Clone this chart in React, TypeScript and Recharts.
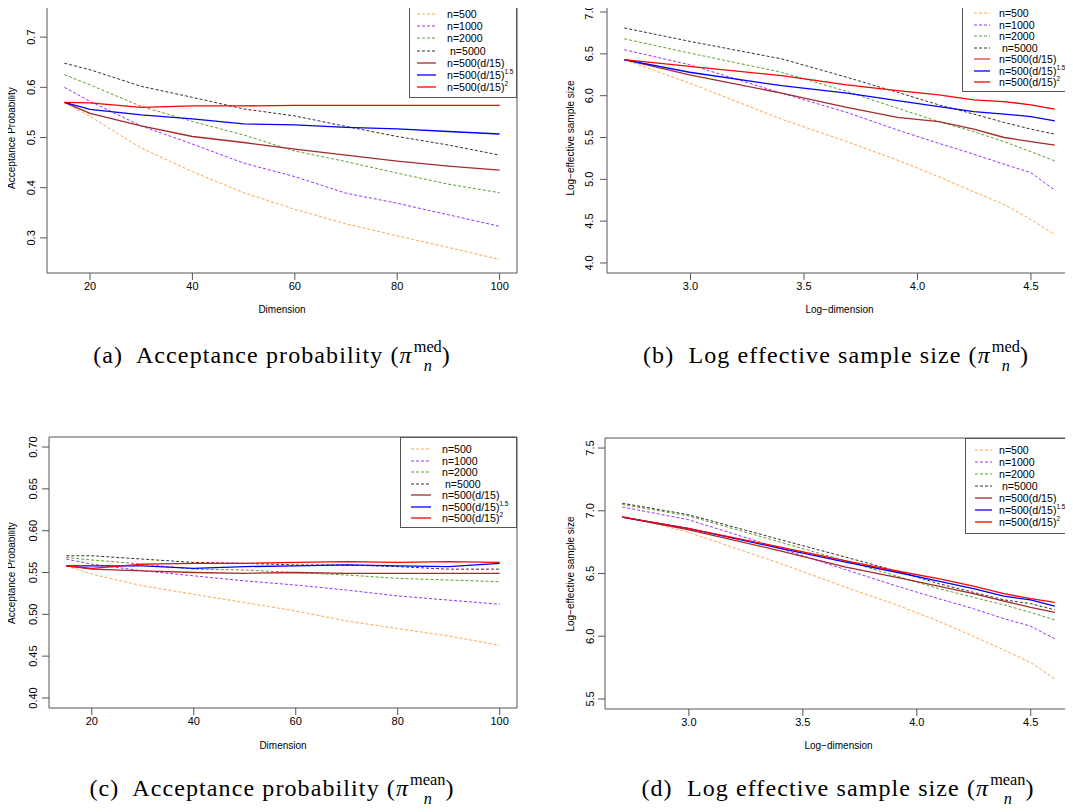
import { LineChart, Line, XAxis, YAxis, ReferenceArea, Legend } from 'recharts';

const SANS = '"Liberation Sans", Arial, sans-serif';
const SERIF = '"Liberation Serif", "DejaVu Serif", serif';

const DIMS = [15, 20, 30, 40, 50, 60, 70, 80, 90, 100];
const LOG_DIMS = DIMS.map((d) => Math.log(d));

// (a) acceptance probability, median target
const medAcc500 = [0.570, 0.542, 0.479, 0.432, 0.390, 0.357, 0.328, 0.304, 0.281, 0.257];
const medAcc1000 = [0.600, 0.572, 0.523, 0.487, 0.449, 0.422, 0.389, 0.369, 0.346, 0.323];
const medAcc2000 = [0.625, 0.605, 0.562, 0.532, 0.505, 0.473, 0.452, 0.429, 0.407, 0.390];
const medAcc5000 = [0.648, 0.635, 0.602, 0.580, 0.557, 0.543, 0.522, 0.502, 0.485, 0.465];
const medAccLin = [0.570, 0.548, 0.523, 0.502, 0.490, 0.477, 0.465, 0.453, 0.443, 0.435];
const medAccPow15 = [0.570, 0.556, 0.545, 0.537, 0.527, 0.525, 0.520, 0.517, 0.512, 0.507];
const medAccSq = [0.570, 0.569, 0.560, 0.563, 0.563, 0.564, 0.564, 0.564, 0.564, 0.564];

// (b) log effective sample size, median target
const medEss500 = [6.43, 6.15, 5.72, 5.45, 5.23, 5.03, 4.85, 4.70, 4.52, 4.34];
const medEss1000 = [6.55, 6.37, 6.03, 5.80, 5.59, 5.43, 5.30, 5.18, 5.08, 4.87];
const medEss2000 = [6.68, 6.51, 6.28, 6.05, 5.85, 5.69, 5.57, 5.45, 5.33, 5.22];
const medEss5000 = [6.81, 6.65, 6.44, 6.22, 6.04, 5.89, 5.78, 5.68, 5.60, 5.54];
const medEssLin = [6.43, 6.25, 6.03, 5.86, 5.74, 5.69, 5.60, 5.50, 5.45, 5.41];
const medEssPow15 = [6.43, 6.28, 6.12, 6.03, 5.94, 5.87, 5.81, 5.78, 5.75, 5.70];
const medEssSq = [6.43, 6.35, 6.24, 6.13, 6.06, 6.01, 5.95, 5.93, 5.89, 5.84];

// (c) acceptance probability, mean target
const meanAcc500 = [0.558, 0.548, 0.534, 0.524, 0.514, 0.504, 0.492, 0.483, 0.474, 0.463];
const meanAcc1000 = [0.566, 0.560, 0.552, 0.546, 0.540, 0.535, 0.529, 0.522, 0.517, 0.512];
const meanAcc2000 = [0.568, 0.565, 0.560, 0.554, 0.553, 0.550, 0.547, 0.543, 0.541, 0.539];
const meanAcc5000 = [0.570, 0.570, 0.566, 0.562, 0.561, 0.559, 0.559, 0.557, 0.554, 0.554];
const meanAccLin = [0.558, 0.554, 0.552, 0.550, 0.549, 0.550, 0.549, 0.549, 0.549, 0.549];
const meanAccPow15 = [0.558, 0.558, 0.558, 0.555, 0.557, 0.558, 0.559, 0.558, 0.557, 0.561];
const meanAccSq = [0.558, 0.555, 0.560, 0.561, 0.561, 0.562, 0.563, 0.562, 0.563, 0.562];

// (d) log effective sample size, mean target
const meanEss500 = [6.96, 6.83, 6.58, 6.39, 6.25, 6.12, 6.00, 5.89, 5.79, 5.66];
const meanEss1000 = [7.03, 6.93, 6.70, 6.53, 6.40, 6.30, 6.22, 6.14, 6.08, 5.98];
const meanEss2000 = [7.05, 6.96, 6.75, 6.60, 6.48, 6.38, 6.31, 6.25, 6.19, 6.13];
const meanEss5000 = [7.06, 6.97, 6.77, 6.63, 6.52, 6.42, 6.35, 6.29, 6.26, 6.21];
const meanEssLin = [6.95, 6.85, 6.68, 6.55, 6.47, 6.40, 6.34, 6.28, 6.23, 6.19];
const meanEssPow15 = [6.95, 6.86, 6.70, 6.59, 6.51, 6.44, 6.38, 6.32, 6.29, 6.24];
const meanEssSq = [6.95, 6.86, 6.71, 6.60, 6.52, 6.46, 6.40, 6.34, 6.30, 6.27];

const DIM_TICKS = [20, 40, 60, 80, 100];
const LOG_DIM_TICKS = [3.0, 3.5, 4.0, 4.5];
const MED_ACC_TICKS = [0.3, 0.4, 0.5, 0.6, 0.7];
const MED_ESS_TICKS = [4.0, 4.5, 5.0, 5.5, 6.0, 6.5, 7.0];
const MEAN_ACC_TICKS = [0.40, 0.45, 0.50, 0.55, 0.60, 0.65, 0.70];
const MEAN_ESS_TICKS = [5.5, 6.0, 6.5, 7.0, 7.5];

const KEYS = ['n500', 'n1000', 'n2000', 'n5000', 'lin', 'pow15', 'sq'];
const COLORS = ['#FFA54F', '#9B30FF', '#5E9E2E', '#333333', '#A52A2A', '#0000FF', '#FF0000'];
const DASHED = [true, true, true, true, false, false, false];
const LEGEND_TEXT = ['n=500', 'n=1000', 'n=2000', ' n=5000', 'n=500(d/15)', 'n=500(d/15)', 'n=500(d/15)'];
const LEGEND_SUP = ['', '', '', '', '', '1.5', '2'];

function buildRows(xs: number[], cols: number[][]) {
  return xs.map((x, i) => {
    const row: Record<string, number> = { x };
    KEYS.forEach((k, j) => { row[k] = cols[j][i]; });
    return row;
  });
}

interface LegendCfg {
  left: number; top: number; width: number; height: number;
  first: number; step: number; lineX: number; lineW: number; textX: number;
  firstSolid?: string;
}

function LegendBox({ cfg }: { cfg: LegendCfg }) {
  return (
    <div style={{
      width: '100%', height: '100%', boxSizing: 'border-box', border: '1px solid #555',
      background: '#fff', position: 'relative', fontFamily: SANS, fontSize: 10.6, color: '#000',
    }}>
      {LEGEND_TEXT.map((t, i) => {
        const color = i === 4 && cfg.firstSolid ? cfg.firstSolid : COLORS[i];
        return (
          <div key={i} style={{ position: 'absolute', left: 0, top: cfg.first + i * cfg.step - 8, height: 14, width: '100%' }}>
            <svg style={{ position: 'absolute', left: cfg.lineX, top: 0 }} width={cfg.lineW} height={14}>
              <line x1={0} y1={7} x2={cfg.lineW} y2={7} stroke={color}
                strokeWidth={DASHED[i] ? 1 : 1.3} strokeDasharray={DASHED[i] ? '3 2' : undefined} />
            </svg>
            <span style={{ position: 'absolute', left: cfg.textX, top: 0, lineHeight: '14px', whiteSpace: 'pre' }}>
              {t}
              {LEGEND_SUP[i] && (
                <span style={{ fontSize: 6.5, position: 'relative', top: -5 }}>{LEGEND_SUP[i]}</span>
              )}
            </span>
          </div>
        );
      })}
    </div>
  );
}

interface PanelProps {
  rows: Record<string, number>[];
  left: number; top: number; width: number; height: number;
  plot: { left: number; top: number; right: number; bottom: number };
  xDomain: [number, number]; xTicks: number[];
  yDomain: [number, number]; yTicks: number[]; yDigits: number; yTickOff: number;
  xTitle: string; yTitle: string; yTitleX: number; xTitleY: number;
  legend: LegendCfg;
}

function Panel(p: PanelProps) {
  const yAxisW = p.plot.left;
  const xAxisH = p.height - p.plot.bottom;
  const plotW = p.plot.right - p.plot.left;
  const plotH = p.plot.bottom - p.plot.top;
  const renderYTick = (props: any) => {
    const { x, y, payload } = props;
    const px = x + 9 - p.yTickOff;
    return (
      <text x={px} y={y} transform={`rotate(-90 ${px} ${y})`} textAnchor="middle"
        dominantBaseline="central" fontSize={11} fill="#000" fontFamily={SANS}>
        {Number(payload.value).toFixed(p.yDigits)}
      </text>
    );
  };
  return (
    <div style={{ position: 'absolute', left: p.left, top: p.top, width: p.width, height: p.height }}>
      <LineChart width={p.width} height={p.height} data={p.rows}
        margin={{ top: p.plot.top, right: p.width - p.plot.right, left: 0, bottom: 0 }}
        style={{ fontFamily: SANS }}>
        <XAxis dataKey="x" type="number" domain={p.xDomain} ticks={p.xTicks} allowDataOverflow
          height={xAxisH} axisLine={false} tickSize={7} tickLine={{ stroke: '#555' }}
          tick={{ fontSize: 11, fill: '#000' }} interval={0}
          tickFormatter={(v: number) => (p.xTicks[0] < 10 ? v.toFixed(1) : String(v))} />
        <YAxis type="number" domain={p.yDomain} ticks={p.yTicks} allowDataOverflow
          width={yAxisW} axisLine={false} tickSize={7} tickLine={{ stroke: '#555' }}
          tick={renderYTick} interval={0} />
        <ReferenceArea x1={p.xDomain[0]} x2={p.xDomain[1]} y1={p.yDomain[0]} y2={p.yDomain[1]}
          fill="none" fillOpacity={0} stroke="#555" strokeWidth={1} ifOverflow="visible" />
        {KEYS.map((k, i) => (
          <Line key={k} dataKey={k} type="linear" stroke={COLORS[i]} dot={false}
            strokeWidth={DASHED[i] ? 1 : 1.3} strokeDasharray={DASHED[i] ? '3 2' : undefined}
            isAnimationActive={false} />
        ))}
        <Legend layout="vertical" align="center" verticalAlign="middle"
          wrapperStyle={{ left: p.legend.left, top: p.legend.top, width: p.legend.width, height: p.legend.height }}
          content={() => <LegendBox cfg={p.legend} />} />
      </LineChart>
      <div style={{
        position: 'absolute', left: p.yTitleX - 150, top: p.plot.top + plotH / 2 - 7, width: 300, height: 14,
        lineHeight: '14px', textAlign: 'center', transform: 'rotate(-90deg)', fontFamily: SANS, fontSize: 10,
      }}>{p.yTitle}</div>
      <div style={{
        position: 'absolute', left: p.plot.left + plotW / 2 - 150, top: p.xTitleY - 7, width: 300, height: 14,
        lineHeight: '14px', textAlign: 'center', fontFamily: SANS, fontSize: 10,
      }}>{p.xTitle}</div>
    </div>
  );
}

function Pi({ sup }: { sup: string }) {
  return (
    <>
      <span style={{ fontStyle: 'italic' }}>π</span>
      <span style={{
        display: 'inline-flex', flexDirection: 'column', fontSize: '0.68em', lineHeight: 1.15,
        verticalAlign: '0.7em', letterSpacing: 0, marginLeft: 1,
      }}>
        <span>{sup}</span>
        <span style={{ fontStyle: 'italic' }}>n</span>
      </span>
    </>
  );
}

function Caption({ cx, cy, tag, text, sup }: { cx: number; cy: number; tag: string; text: string; sup: string }) {
  return (
    <div style={{
      position: 'absolute', left: cx - 300, top: cy - 16, width: 600, textAlign: 'center',
      fontFamily: SERIF, fontSize: 24, lineHeight: '32px', whiteSpace: 'pre', color: '#000', letterSpacing: 1.1,
    }}>
      {`(${tag})  ${text} (`}<Pi sup={sup} />{')'}
    </div>
  );
}

const rowsA = buildRows(DIMS, [medAcc500, medAcc1000, medAcc2000, medAcc5000, medAccLin, medAccPow15, medAccSq]);
const rowsB = buildRows(LOG_DIMS, [medEss500, medEss1000, medEss2000, medEss5000, medEssLin, medEssPow15, medEssSq]);
const rowsC = buildRows(DIMS, [meanAcc500, meanAcc1000, meanAcc2000, meanAcc5000, meanAccLin, meanAccPow15, meanAccSq]);
const rowsD = buildRows(LOG_DIMS, [meanEss500, meanEss1000, meanEss2000, meanEss5000, meanEssLin, meanEssPow15, meanEssSq]);

export default function App() {
  return (
    <div style={{ position: 'relative', width: 1073, height: 812, margin: -8, background: '#fff', overflow: 'hidden' }}>
      <Panel rows={rowsA} left={0} top={0} width={540} height={330}
        plot={{ left: 47, top: 2, right: 517, bottom: 273 }}
        xDomain={[11.6, 103.4]} xTicks={DIM_TICKS} yDomain={[0.23, 0.77]} yTicks={MED_ACC_TICKS}
        yDigits={1} yTickOff={16} xTitle="Dimension" yTitle="Acceptance Probability" yTitleX={12} xTitleY={310}
        legend={{ left: 409, top: 2, width: 108, height: 96, first: 12, step: 12.2, lineX: 7, lineW: 19, textX: 37 }} />
      <Panel rows={rowsB} left={540} top={0} width={533} height={330}
        plot={{ left: 67, top: 2, right: 532, bottom: 273 }}
        xDomain={[2.632, 4.681]} xTicks={LOG_DIM_TICKS} yDomain={[3.88, 7.12]} yTicks={MED_ESS_TICKS}
        yDigits={1} yTickOff={18} xTitle="Log−dimension" yTitle="Log−effective sample size" yTitleX={31} xTitleY={310}
        legend={{ left: 422, top: 2, width: 110, height: 90, first: 11, step: 11.5, lineX: 11, lineW: 16, textX: 36, firstSolid: '#D9403A' }} />
      <Panel rows={rowsC} left={0} top={430} width={540} height={330}
        plot={{ left: 49, top: 7, right: 517, bottom: 278 }}
        xDomain={[11.6, 103.4]} xTicks={DIM_TICKS} yDomain={[0.388, 0.712]} yTicks={MEAN_ACC_TICKS}
        yDigits={2} yTickOff={16} xTitle="Dimension" yTitle="Acceptance Probability" yTitleX={12} xTitleY={316}
        legend={{ left: 400, top: 7, width: 117, height: 91, first: 12, step: 11.5, lineX: 10, lineW: 20, textX: 41 }} />
      <Panel rows={rowsD} left={540} top={430} width={533} height={330}
        plot={{ left: 65, top: 8, right: 532, bottom: 279 }}
        xDomain={[2.632, 4.681]} xTicks={LOG_DIM_TICKS} yDomain={[5.42, 7.58]} yTicks={MEAN_ESS_TICKS}
        yDigits={1} yTickOff={15} xTitle="Log−dimension" yTitle="Log−effective sample size" yTitleX={31} xTitleY={316}
        legend={{ left: 425, top: 8, width: 107, height: 96, first: 12, step: 12, lineX: 9, lineW: 17, textX: 33 }} />
      <Caption cx={272} cy={354} tag="a" text="Acceptance probability" sup="med" />
      <Caption cx={836} cy={354} tag="b" text="Log effective sample size" sup="med" />
      <Caption cx={272} cy={787} tag="c" text="Acceptance probability" sup="mean" />
      <Caption cx={838} cy={787} tag="d" text="Log effective sample size" sup="mean" />
    </div>
  );
}
